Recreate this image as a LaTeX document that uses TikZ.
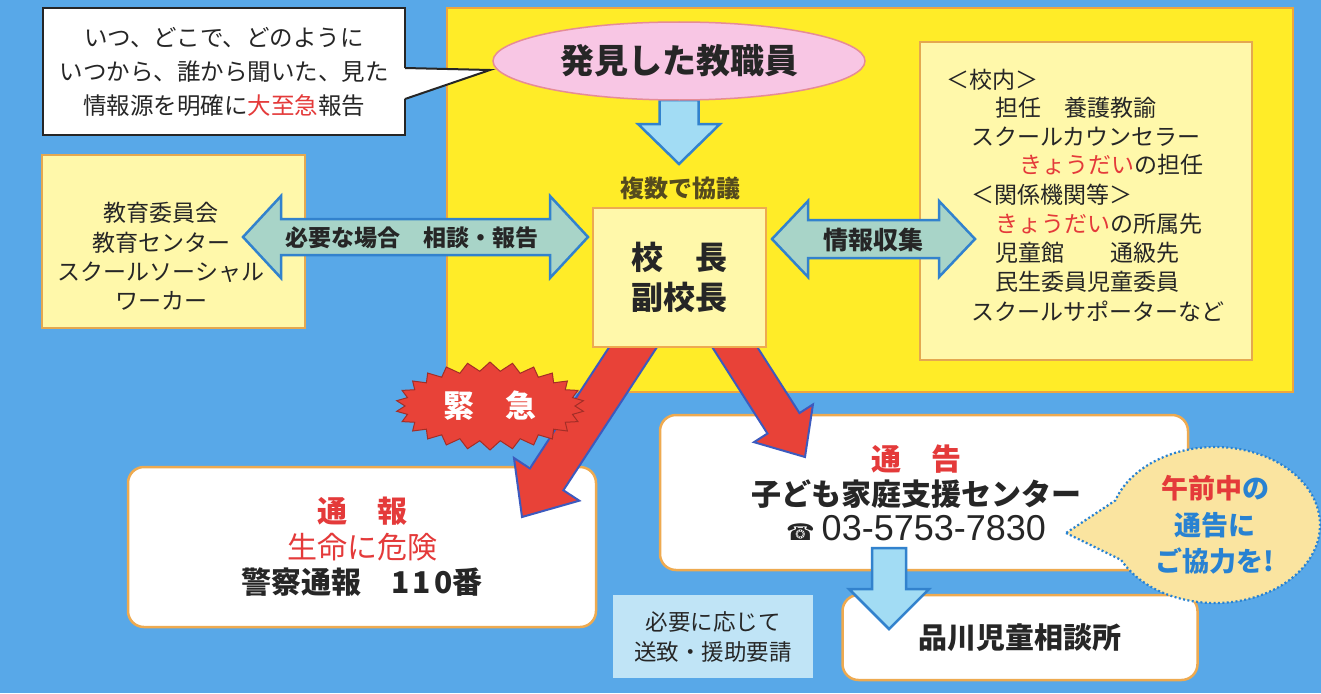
\documentclass[tikz,border=0pt]{standalone}
\usepackage{fontspec}
\setmainfont{Noto Sans CJK JP}
\newfontfamily\symfont{DejaVu Sans}
\newfontfamily\phonefont{Liberation Sans}
\usetikzlibrary{calc,shapes.geometric,shapes.symbols,shapes.callouts}
\pgfdeclarelayer{bg}\pgfdeclarelayer{lower}\pgfdeclarelayer{arrows}
\pgfsetlayers{bg,lower,arrows,main}
\definecolor{bgblue}{RGB}{88,168,232}
\definecolor{yel}{RGB}{255,236,40}
\definecolor{yelborder}{RGB}{240,165,60}
\definecolor{paleyel}{RGB}{255,248,170}
\definecolor{boxborder}{RGB}{228,168,80}
\definecolor{orangeb}{RGB}{238,170,80}
\definecolor{pinkf}{RGB}{248,198,228}
\definecolor{pinkb}{RGB}{230,140,150}
\definecolor{lblue}{RGB}{162,220,244}
\definecolor{arrowblue}{RGB}{50,130,205}
\definecolor{tealf}{RGB}{168,212,200}
\definecolor{redc}{RGB}{232,66,56}
\definecolor{redtext}{RGB}{228,58,58}
\definecolor{shadowblue}{RGB}{60,90,190}
\definecolor{darkt}{RGB}{38,38,38}
\definecolor{olivet}{RGB}{85,75,30}
\definecolor{peach}{RGB}{250,228,160}
\definecolor{textblue}{RGB}{40,130,210}
\definecolor{paleblue}{RGB}{192,228,246}
\newcommand\redt[1]{\textcolor{redtext}{#1}}
\newcommand\fs[2]{\fontsize{#1}{#2}\selectfont}
% fat single arrow: start, tip, half shaft, head length, head half width, style
\newcommand\fatarrow[6]{%
  \coordinate (faB) at ($(#2)!#4!(#1)$);
  \draw[#6] ($(#1)!#3!90:(#2)$) -- ($(faB)!#3!90:(#2)$) -- ($(faB)!#5!90:(#2)$) -- (#2)
    -- ($(faB)!#5!-90:(#2)$) -- ($(faB)!#3!-90:(#2)$) -- ($(#1)!#3!-90:(#2)$) -- cycle;}
% fat double arrow: tip A, tip B, half shaft, head length, head half width, style
\newcommand\dblarrow[6]{%
  \coordinate (daA) at ($(#1)!#4!(#2)$);
  \coordinate (daB) at ($(#2)!#4!(#1)$);
  \draw[#6] (#1) -- ($(daA)!#5!90:(#2)$) -- ($(daA)!#3!90:(#2)$) -- ($(daB)!#3!-90:(#1)$)
    -- ($(daB)!#5!-90:(#1)$) -- (#2) -- ($(daB)!#5!90:(#1)$) -- ($(daB)!#3!90:(#1)$)
    -- ($(daA)!#3!-90:(#2)$) -- ($(daA)!#5!-90:(#2)$) -- cycle;}
\tikzset{
  every node/.style={inner sep=0pt, outer sep=0pt, text=darkt},
  ybox/.style={draw=boxborder, line width=1.6pt, fill=paleyel},
  wbox/.style={draw=orangeb, line width=2.5pt, fill=white, rounded corners=16pt},
  bluearrow/.style={fill=lblue, draw=arrowblue, line width=2.5pt, line join=miter},
  redarrow/.style={fill=redc, draw=shadowblue, line width=2pt, line join=miter},
  dblar/.style={fill=tealf, draw=arrowblue, line width=2.5pt, line join=miter},
  rline/.style={anchor=west, font=\fs{23}{28}},
}
\begin{document}
\begin{tikzpicture}[x=1pt,y=-1pt]
\useasboundingbox (0,0) rectangle (1321,693);
\begin{pgfonlayer}{bg}
  \fill[bgblue] (0,0) rectangle (1321,693);
  \draw[fill=yel, draw=yelborder, line width=2pt] (447,8) rectangle (1293,392);
\end{pgfonlayer}
\begin{pgfonlayer}{lower}
  \node[ybox, minimum width=263pt, minimum height=173pt] (leftbox) at (173.5,241.5) {};
  \node[ybox, minimum width=332pt, minimum height=318pt] (rightbox) at (1086,201) {};
  \node[wbox, minimum width=468pt, minimum height=160pt, align=center, font=\fs{30}{35.5}] (tsuho) at (362,547)
    {\redt{\bfseries 通　報}\\\redt{生命に危険}\\{\bfseries 警察通報　1\kern3pt1\kern3pt0番}};
  \node[wbox, minimum width=528pt, minimum height=155pt] (tsukoku) at (924,492.5) {};
  \node[wbox, minimum width=355pt, minimum height=85pt, font=\bfseries\fs{29}{34}] (shina) at (1020,637.5) {品川児童相談所};
  \node[fill=paleblue, minimum width=200pt, minimum height=83pt, align=center, font=\fs{22.5}{30}] (youkyu) at (713,636.5)
    {必要に応じて\\送致・援助要請};
\end{pgfonlayer}
% main layer nodes
\node[ellipse, minimum width=372pt, minimum height=78pt, fill=pinkf, draw=pinkb, line width=1.5pt,
      font=\bfseries\fs{34}{40}] (disc) at (679,61) {発見した教職員};
\node[draw=darkt, line width=2pt, fill=white, minimum width=362pt, minimum height=127pt,
      align=center, font=\fs{23.5}{34}] (bubble) at (224,71.5)
  {いつ、どこで、どのように\\いつから、誰から聞いた、見た\\情報源を明確に\redt{大至急}報告};
\coordinate (btip) at ($(disc.west)+(-3,9)$);
\fill[white] ($(bubble.north east)+(-1.5,60)$) -- (btip) -- ($(bubble.north east)+(-1.5,91)$) -- cycle;
\draw[darkt, line width=2pt, line join=miter] ($(bubble.north east)+(0,60)$) -- (btip) -- ($(bubble.north east)+(0,91)$);
\node[font=\bfseries\fs{24}{28}, text=olivet] (kyogi) at (680,188) {複数で協議};
\node[ybox, draw=orangeb, line width=2pt, minimum width=173pt, minimum height=139pt, align=center,
      font=\bfseries\fs{32}{40}] (kocho) at (679.5,277.5) {校　長\\副校長};
\node[align=center, font=\fs{23}{29.3}] (lefttxt) at (161,256.5)
  {教育委員会\\教育センター\\スクールソーシャル\\ワーカー};
\node[rline] (r1) at (946,80) {＜校内＞};
\node[rline] (r2) at (995,108) {担任　養護教諭};
\node[rline] (r3) at (971,137) {スクールカウンセラー};
\node[rline] (r4) at (1019,165) {\redt{きょうだい}の担任};
\node[rline] (r5) at (971,195) {＜関係機関等＞};
\node[rline] (r6) at (995,224) {\redt{きょうだい}の所属先};
\node[rline] (r7) at (995,253) {児童館　　通級先};
\node[rline] (r8) at (995,282) {民生委員児童委員};
\node[rline] (r9) at (971,311) {スクールサポーターなど};
\node[font=\bfseries\fs{23}{28}] (soudan) at (412,238) {必要な場合　相談・報告};
\node[font=\bfseries\fs{25}{28}] (joho) at (873,240) {情報収集};
\node[align=center, font=\fs{30}{35}] (tsukokutxt) at (916,493)
  {\redt{\bfseries 通　告}\\{\bfseries 子ども家庭支援センター}\\{\symfont\fs{23}{35}☎}\hspace{7pt}{\phonefont\fs{36}{35}03-5753-7830}};
\coordinate (ctip) at (1066,533);
\node[ellipse callout, callout absolute pointer={(ctip)}, callout pointer arc=45,
      minimum width=210pt, minimum height=156pt, fill=peach, draw=textblue, line width=2.2pt,
      dash pattern=on 2pt off 2.4pt, align=center, font=\bfseries\fs{27}{36.5}, text=textblue]
  (callout) at (1215,525) {\redt{午前中}の\\通告に\\ご協力を!};
\node[starburst, starburst points=26, starburst point height=9pt, random starburst=0,
      minimum width=188pt, minimum height=88pt, fill=redc, draw=redc!70!black, line width=1pt,
      font=\bfseries\fs{31}{34}, text=white] (kinkyu) at (490,406) {緊　急};
% connectors
\begin{pgfonlayer}{arrows}
  \coordinate (kt) at (679,164);
  \fatarrow{disc.south}{kt}{19.5pt}{40pt}{41pt}{bluearrow}
  \coordinate (la) at (243,237);
  \coordinate (lb) at (588,237);
  \dblarrow{la}{lb}{18pt}{38pt}{41pt}{dblar}
  \coordinate (ra) at (772,239);
  \coordinate (rb) at (975,239);
  \dblarrow{ra}{rb}{19pt}{36pt}{38pt}{dblar}
  \coordinate (rs1) at (641,335);
  \coordinate (rt1) at (522,517);
  \fatarrow{rs1}{rt1}{20pt}{45pt}{39pt}{redarrow}
  \coordinate (rs2) at (727,335);
  \coordinate (rt2) at (805,457);
  \fatarrow{rs2}{rt2}{19pt}{40pt}{35pt}{redarrow}
  \coordinate (ba) at (889,548);
  \coordinate (bb) at (889,629);
  \fatarrow{ba}{bb}{17pt}{40pt}{40pt}{bluearrow}
\end{pgfonlayer}
\end{tikzpicture}
\end{document}
